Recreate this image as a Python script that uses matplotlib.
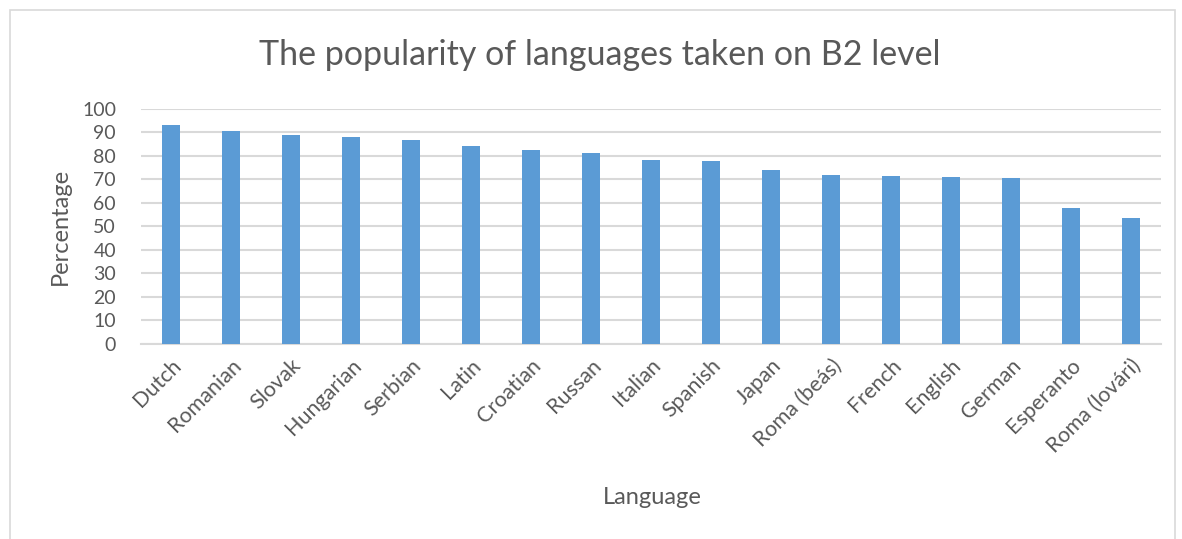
import matplotlib.pyplot as plt
from matplotlib.patches import Rectangle

languages = ['Dutch', 'Romanian', 'Slovak', 'Hungarian', 'Serbian', 'Latin',
             'Croatian', 'Russan', 'Italian', 'Spanish', 'Japan', 'Roma (beás)',
             'French', 'English', 'German', 'Esperanto', 'Roma (lovári)']
percentages = [93.0, 90.3, 88.7, 87.7, 86.7, 84.2,
               82.3, 81.1, 78.1, 77.5, 73.7, 71.7,
               71.5, 71.1, 70.4, 57.6, 53.3]
yticks = list(range(0, 101, 10))

plt.rcParams['font.family'] = ['Lato', 'DejaVu Sans']
text_color = '#595959'

fig = plt.figure(figsize=(11.82, 5.39), dpi=100)
ax = fig.add_axes([0.1193, 0.3618, 0.8629, 0.4369])

# chart border
fig.patches.append(Rectangle((10 / 1182, -0.05), 1165 / 1182, 1 - 10 / 539 + 0.05,
                             transform=fig.transFigure, fill=False,
                             edgecolor='#d9d9d9', linewidth=1.2))

x = range(len(languages))
ax.bar(x, percentages, width=0.31, color='#5b9bd5', zorder=3)

ax.set_xlim(-0.5, len(languages) - 0.5)
ax.set_ylim(0, 100)
ax.set_yticks(yticks)
ax.set_yticklabels([str(t) for t in yticks], fontsize=14, color=text_color)
ax.set_xticks(list(x))
ax.set_xticklabels(languages, rotation=45, ha='right', rotation_mode='anchor',
                   fontsize=15.5, color=text_color)
ax.tick_params(axis='both', length=0)
ax.tick_params(axis='x', pad=8)
ax.tick_params(axis='y', pad=18)

ax.grid(axis='y', color='#d9d9d9', linewidth=1.5, zorder=0)
for side in ['top', 'right', 'left']:
    ax.spines[side].set_visible(False)
ax.spines['bottom'].set_color('#d9d9d9')
ax.spines['bottom'].set_linewidth(1.5)

fig.text(0.507, 0.898, 'The popularity of languages taken on B2 level',
         ha='center', va='center', fontsize=24.5, color=text_color)
fig.text(0.552, 0.077, 'Language', ha='center', va='center',
         fontsize=17, color=text_color)
fig.text(0.051, 0.58, 'Percentage', ha='center', va='center', rotation=90,
         fontsize=17, color=text_color)

fig.savefig('out.png', dpi=100)
